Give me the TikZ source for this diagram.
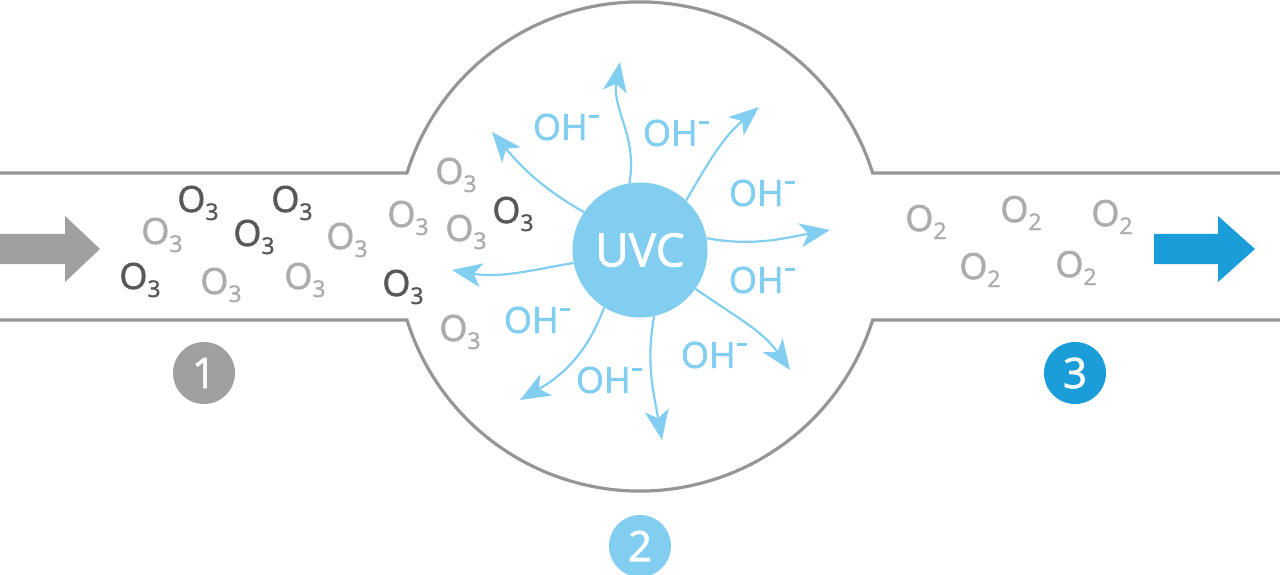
\documentclass[tikz,border=0pt]{standalone}
\usepackage{fontspec}
\setmainfont{Open Sans}[FakeBold=1.6]
\usetikzlibrary{arrows.meta}
\definecolor{pipegray}{RGB}{150,150,150}
\definecolor{darkmol}{RGB}{88,88,88}
\definecolor{lightmol}{RGB}{172,172,172}
\definecolor{uvblue}{RGB}{130,206,241}
\definecolor{deepblue}{RGB}{27,157,217}
\definecolor{arrowgray}{RGB}{160,160,160}
\newcommand{\molsub}[1]{\raisebox{-8pt}{\fontsize{23}{23}\selectfont #1}}
\newcommand{\ozone}{O\molsub{3}}
\newcommand{\oxygen}{O\molsub{2}}
\newcommand{\hydroxyl}{OH\kern1.5pt\rule[22pt]{10pt}{3pt}}

\begin{document}
\begin{tikzpicture}[x=1pt,y=1pt,
  mol/.style={inner sep=0pt,font=\fontsize{36}{36}\selectfont},
  o3dark/.style={mol,text=darkmol},
  o3light/.style={mol,text=lightmol},
  ohlab/.style={mol,text=uvblue},
  ray/.style={draw=uvblue,line width=2.2pt,-{Stealth[length=30pt,width=24pt,inset=8pt]}},
  numdot/.style={circle,minimum size=62pt,inner sep=0pt,text=white,font=\fontsize{42}{42}\selectfont}]
  \useasboundingbox (0,0) rectangle (1280,574);

  % pipe and chamber
  \draw[pipegray,line width=3.2pt] (0,401) -- (407,401) arc[start angle=162.6,end angle=17.4,radius=244] -- (1280,401);
  \draw[pipegray,line width=3.2pt] (0,254) -- (407,254) arc[start angle=197.4,end angle=342.6,radius=244] -- (1280,254);

  % flow in and out
  \fill[arrowgray] (0,310) -- (65,310) -- (65,292) -- (100,325) -- (65,358) -- (65,340) -- (0,340) -- cycle;
  \fill[deepblue] (1154,310) -- (1218,310) -- (1218,292) -- (1255,325) -- (1218,358) -- (1218,340) -- (1154,340) -- cycle;

  % lamp
  \node[circle,fill=uvblue,minimum size=135pt,inner sep=0pt,text=white,font=\fontsize{46}{46}\selectfont] (uvc) at (640,324) {UVC};

  \coordinate (t1) at (620,512);
  \coordinate (t2) at (492,442);
  \coordinate (t3) at (759,467);
  \coordinate (t4) at (830,344);
  \coordinate (t5) at (452,304);
  \coordinate (t6) at (520,174);
  \coordinate (t7) at (662,134);
  \coordinate (t8) at (790,204);

  \draw[ray] (uvc.99) to[out=80,in=-100] (t1);
  \draw[ray] (uvc.146) to[out=150,in=-50] (t2);
  \draw[ray] (uvc.47) to[out=60,in=-140] (t3);
  \draw[ray] (uvc.10) to[out=-10,in=190] (t4);
  \draw[ray] (uvc.191) to[out=190,in=-10] (t5);
  \draw[ray] (uvc.238) to[out=250,in=30] (t6);
  \draw[ray] (uvc.282) to[out=-100,in=100] (t7);
  \draw[ray] (uvc.325) to[out=-35,in=125] (t8);

  \node[ohlab] (h1) at (566,447) {\hydroxyl};
  \node[ohlab] (h2) at (676,441) {\hydroxyl};
  \node[ohlab] (h3) at (762,381) {\hydroxyl};
  \node[ohlab] (h4) at (762,294) {\hydroxyl};
  \node[ohlab] (h5) at (537,254) {\hydroxyl};
  \node[ohlab] (h6) at (714,219) {\hydroxyl};
  \node[ohlab] (h7) at (609,194) {\hydroxyl};

  % ozone coming in
  \node[o3dark] (o1) at (198,371) {\ozone};
  \node[o3dark] (o2) at (292,371) {\ozone};
  \node[o3light] (o3) at (162,339) {\ozone};
  \node[o3dark] (o4) at (254,337) {\ozone};
  \node[o3light] (o5) at (347,334) {\ozone};
  \node[o3dark] (o6) at (140,294) {\ozone};
  \node[o3light] (o7) at (221,289) {\ozone};
  \node[o3light] (o8) at (305,294) {\ozone};
  \node[o3light] (o9) at (456,399) {\ozone};
  \node[o3light] (o10) at (408,356) {\ozone};
  \node[o3light] (o11) at (466,342) {\ozone};
  \node[o3dark] (o12) at (513,360) {\ozone};
  \node[o3dark] (o13) at (403,287) {\ozone};
  \node[o3light] (o14) at (460,242) {\ozone};

  % oxygen going out
  \node[o3light] (p1) at (926,352) {\oxygen};
  \node[o3light] (p2) at (1021,361) {\oxygen};
  \node[o3light] (p3) at (1112,357) {\oxygen};
  \node[o3light] (p4) at (980,304) {\oxygen};
  \node[o3light] (p5) at (1076,306) {\oxygen};

  % steps
  \node[numdot,fill=arrowgray] (n1) at (204,201) {1};
  \node[numdot,fill=uvblue] (n2) at (640,28) {2};
  \node[numdot,fill=deepblue] (n3) at (1075,201) {3};
\end{tikzpicture}
\end{document}
